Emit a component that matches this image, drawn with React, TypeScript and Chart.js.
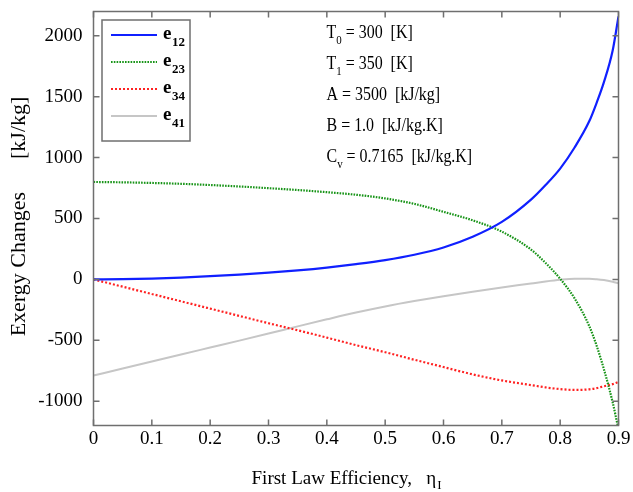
import React, { useEffect, useRef } from "react";
import { Chart, registerables } from "chart.js";

Chart.register(...registerables);

// First law efficiency samples
const ETA = [0, 0.05, 0.1, 0.15, 0.2, 0.25, 0.3, 0.35, 0.4, 0.45, 0.5, 0.55, 0.6, 0.65, 0.7, 0.75, 0.775, 0.8, 0.825, 0.85, 0.8625, 0.875, 0.89, 0.9];

// Exergy changes of each process [kJ/kg]
const E12 = [0, 2, 7, 15, 26, 39, 55, 74, 97, 125, 158, 202, 262, 350, 472, 655, 775, 910, 1085, 1300, 1450, 1620, 1880, 2160];
const E23 = [800, 797, 792, 785, 775, 763, 749, 734, 716, 695, 665, 620, 555, 485, 392, 245, 135, 5, -158, -385, -545, -738, -1010, -1230];
const E34 = [0, -60, -120, -180, -240, -300, -360, -418, -478, -540, -598, -660, -720, -780, -830, -868, -887, -901, -908, -903, -893, -878, -860, -842];
const E41 = [-790, -732, -675, -617, -560, -503, -445, -386, -328, -272, -222, -178, -138, -101, -66, -34, -17, -3, 5, 5, 1, -6, -20, -32];

const X_TICKS = [0, 0.1, 0.2, 0.3, 0.4, 0.5, 0.6, 0.7, 0.8, 0.9];
const Y_TICKS = [-1000, -500, 0, 500, 1000, 1500, 2000];

const SERIES_LABELS = ["12", "23", "34", "41"];

const PARAMS = [
  { main: "T", sub: "0", rest: " = 300  [K]" },
  { main: "T", sub: "1", rest: " = 350  [K]" },
  { main: "A = 3500  [kJ/kg]", sub: "", rest: "" },
  { main: "B = 1.0  [kJ/kg.K]", sub: "", rest: "" },
  { main: "C", sub: "v", rest: " = 0.7165  [kJ/kg.K]" },
];

const FONT = "'Liberation Serif', 'Times New Roman', serif";
const FRAME = "#6f6f6f";

const pts = (ys: number[]) => ETA.map((x, i) => ({ x, y: ys[i] }));

const decorations = {
  id: "decorations",
  afterDraw(chart: any) {
    const { ctx, chartArea } = chart;
    const { left, right, top, bottom } = chartArea;
    const xs = chart.scales.x;
    const ys = chart.scales.y;
    ctx.save();

    // frame with inward ticks on all four sides
    ctx.strokeStyle = FRAME;
    ctx.lineWidth = 1.5;
    ctx.strokeRect(left, top, right - left, bottom - top);
    const tl = 6;
    ctx.beginPath();
    X_TICKS.forEach((v) => {
      const px = xs.getPixelForValue(v);
      ctx.moveTo(px, bottom);
      ctx.lineTo(px, bottom - tl);
      ctx.moveTo(px, top);
      ctx.lineTo(px, top + tl);
    });
    Y_TICKS.forEach((v) => {
      const py = ys.getPixelForValue(v);
      ctx.moveTo(left, py);
      ctx.lineTo(left + tl, py);
      ctx.moveTo(right, py);
      ctx.lineTo(right - tl, py);
    });
    ctx.stroke();

    // legend box
    const lx = left + 8.5;
    const ly = top + 8.5;
    ctx.lineWidth = 1.5;
    ctx.strokeStyle = FRAME;
    ctx.strokeRect(lx, ly, 88, 121);
    chart.data.datasets.forEach((ds: any, i: number) => {
      const y = ly + 15 + i * 27;
      ctx.save();
      ctx.strokeStyle = ds.borderColor;
      ctx.lineWidth = ds.borderWidth;
      ctx.setLineDash(ds.borderDash || []);
      ctx.beginPath();
      ctx.moveTo(lx + 9, y);
      ctx.lineTo(lx + 55, y);
      ctx.stroke();
      ctx.restore();
      ctx.fillStyle = "#000";
      ctx.textBaseline = "alphabetic";
      ctx.textAlign = "left";
      ctx.font = `bold 19px ${FONT}`;
      ctx.fillText("e", lx + 61, y + 4);
      const ew = ctx.measureText("e").width;
      ctx.font = `bold 13px ${FONT}`;
      ctx.fillText(SERIES_LABELS[i], lx + 61 + ew + 0.5, y + 11);
    });

    // parameter annotations (slightly condensed serif)
    ctx.fillStyle = "#000";
    ctx.textAlign = "left";
    ctx.textBaseline = "alphabetic";
    PARAMS.forEach((p, i) => {
      const bx = left + 233;
      const by = top + 26.5 + i * 31;
      ctx.save();
      ctx.translate(bx, by);
      ctx.scale(0.84, 1);
      ctx.font = `19px ${FONT}`;
      ctx.fillText(p.main, 0, 0);
      let x = ctx.measureText(p.main).width;
      if (p.sub) {
        ctx.font = `13px ${FONT}`;
        ctx.fillText(p.sub, x, 6);
        x += ctx.measureText(p.sub).width;
      }
      if (p.rest) {
        ctx.font = `19px ${FONT}`;
        ctx.fillText(p.rest, x, 0);
      }
      ctx.restore();
    });

    // y axis title
    ctx.save();
    ctx.translate(19, (top + bottom) / 2 - 2);
    ctx.rotate(-Math.PI / 2);
    ctx.font = `22px ${FONT}`;
    ctx.textAlign = "center";
    ctx.textBaseline = "middle";
    ctx.fillText("Exergy Changes      [kJ/kg]", 0, 0);
    ctx.restore();

    // x axis title
    ctx.font = `19px ${FONT}`;
    const main = "First Law Efficiency,   \u03b7";
    const mw = ctx.measureText(main).width;
    ctx.font = `13px ${FONT}`;
    const sw = ctx.measureText("I").width;
    const sx = (left + right) / 2 - 10 - (mw + sw) / 2;
    const sy = 484;
    ctx.font = `19px ${FONT}`;
    ctx.textAlign = "left";
    ctx.textBaseline = "alphabetic";
    ctx.fillText(main, sx, sy);
    ctx.font = `13px ${FONT}`;
    ctx.fillText("I", sx + mw + 1, sy + 5);

    ctx.restore();
  },
};

export default function App() {
  const ref = useRef<HTMLCanvasElement | null>(null);

  useEffect(() => {
    if (!ref.current) return;
    const chart = new Chart(ref.current, {
      type: "line",
      data: {
        datasets: [
          { label: "e12", data: pts(E12), borderColor: "#1020ff", borderWidth: 2.2, borderDash: [], pointRadius: 0, cubicInterpolationMode: "monotone" },
          { label: "e23", data: pts(E23), borderColor: "#189418", borderWidth: 2.2, borderDash: [1.6, 1.2], pointRadius: 0, cubicInterpolationMode: "monotone" },
          { label: "e34", data: pts(E34), borderColor: "#ff2222", borderWidth: 2.2, borderDash: [2, 2], pointRadius: 0, cubicInterpolationMode: "monotone" },
          { label: "e41", data: pts(E41), borderColor: "#c6c6c6", borderWidth: 2, borderDash: [], pointRadius: 0, cubicInterpolationMode: "monotone" },
        ],
      },
      options: {
        animation: false,
        responsive: false,
        devicePixelRatio: 1,
        layout: { padding: { left: 0, right: 14.5, top: 11.5, bottom: 0 } },
        plugins: { legend: { display: false }, tooltip: { enabled: false } },
        scales: {
          x: {
            type: "linear",
            min: 0,
            max: 0.9,
            grid: { display: false, drawTicks: false },
            border: { display: false },
            afterBuildTicks: (s: any) => { s.ticks = X_TICKS.map((v) => ({ value: v })); },
            afterFit: (s: any) => { s.height = 66.5; s.paddingLeft = 0; s.paddingRight = 0; },
            ticks: {
              color: "#000",
              padding: 4,
              maxRotation: 0,
              font: { family: FONT, size: 19, lineHeight: 1 },
              callback: (v: any) => String(v),
            },
          },
          y: {
            type: "linear",
            min: -1200,
            max: 2200,
            grid: { display: false, drawTicks: false },
            border: { display: false },
            afterBuildTicks: (s: any) => { s.ticks = Y_TICKS.map((v) => ({ value: v })); },
            afterFit: (s: any) => { s.width = 93.5; s.paddingTop = 0; s.paddingBottom = 0; },
            ticks: {
              color: "#000",
              padding: 11,
              font: { family: FONT, size: 19, lineHeight: 1 },
              callback: (v: any) => String(v),
            },
          },
        },
      },
      plugins: [decorations],
    });
    return () => chart.destroy();
  }, []);

  return (
    <div style={{ position: "absolute", left: 0, top: 0, width: 633, height: 492, background: "#fff" }}>
      <canvas ref={ref} width={633} height={492} style={{ display: "block" }} />
    </div>
  );
}
